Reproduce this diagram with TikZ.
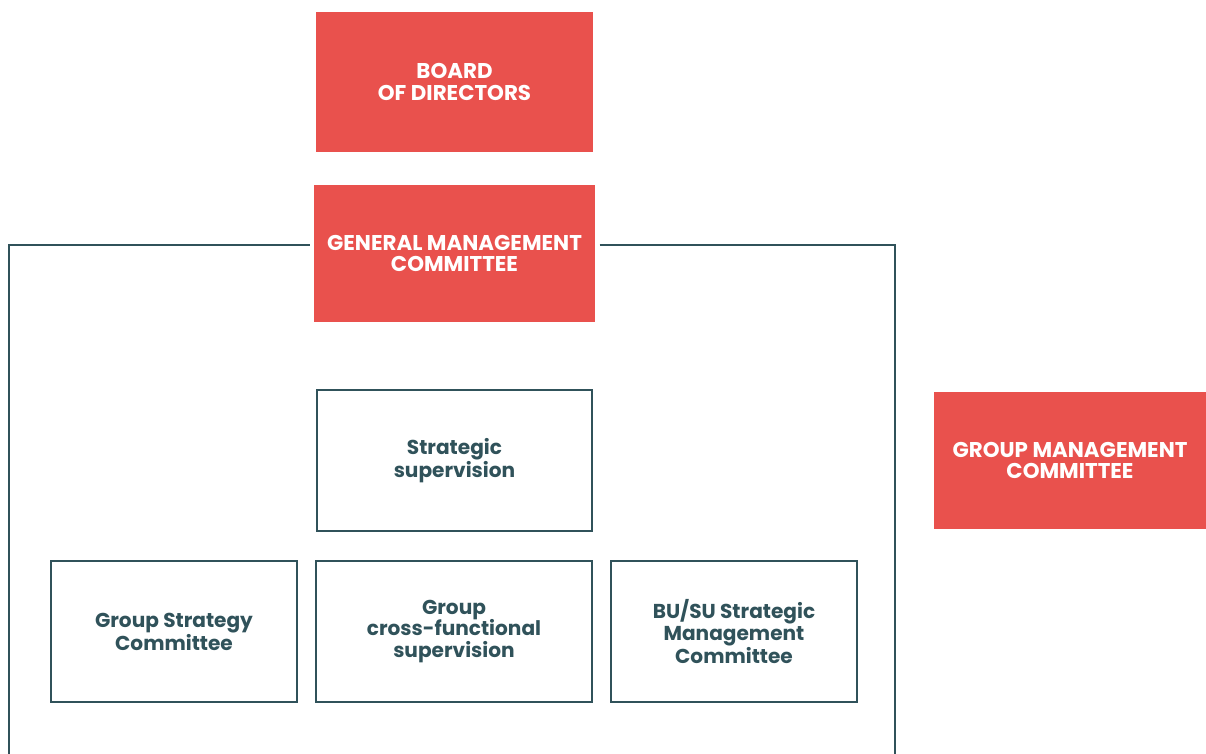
\documentclass[tikz,border=0pt]{standalone}
\usepackage{fontspec}
\setmainfont{Poppins}
\definecolor{boxred}{HTML}{E9514D}
\definecolor{slate}{HTML}{30525A}

\begin{document}
\begin{tikzpicture}[x=0.025cm, y=-0.025cm,
  redbox/.style={fill=boxred, text=white, font=\bfseries\fontsize{15.2}{15}\selectfont,
    align=center, inner sep=0pt},
  linebox/.style={draw=slate, line width=1.7pt, text=slate,
    font=\bfseries\fontsize{14.3}{15.3}\selectfont, align=center, inner sep=0pt},
  frame/.style={draw=slate, line width=1.6pt}]
\useasboundingbox (0,0) rectangle (1206,754);

\node[redbox, minimum width=277*0.025cm, minimum height=140*0.025cm] (board) at (454.5,82) {BOARD\\OF DIRECTORS};
\node[redbox, minimum width=281*0.025cm, minimum height=137*0.025cm] (gmc) at (454.5,253.5) {GENERAL MANAGEMENT\\COMMITTEE};
\node[redbox, minimum width=272*0.025cm, minimum height=137*0.025cm] (grmc) at (1070,460.5) {GROUP MANAGEMENT\\COMMITTEE};

\node[linebox, minimum width=275*0.025cm, minimum height=141*0.025cm] (strat) at (454.5,460.5) {Strategic\\supervision};
\node[linebox, minimum width=246*0.025cm, minimum height=141*0.025cm] (gsc) at (174,631.5) {Group Strategy\\Committee};
\node[linebox, minimum width=276*0.025cm, minimum height=141*0.025cm] (cross) at (454,631.5) {Group\\cross-functional\\supervision};
\node[linebox, minimum width=246*0.025cm, minimum height=141*0.025cm] (busu) at (734,631.5) {BU/SU Strategic\\Management\\Committee};

% frame round the general management committee
\coordinate (bl) at (9,754);
\coordinate (tl) at (9,245);
\coordinate (tr) at (895,245);
\coordinate (br) at (895,754);
\draw[frame, shorten >=3pt] (bl) -- (tl) -- (gmc.west |- tl);
\draw[frame, shorten <=3pt] (gmc.east |- tr) -- (tr) -- (br);
\end{tikzpicture}
\end{document}
